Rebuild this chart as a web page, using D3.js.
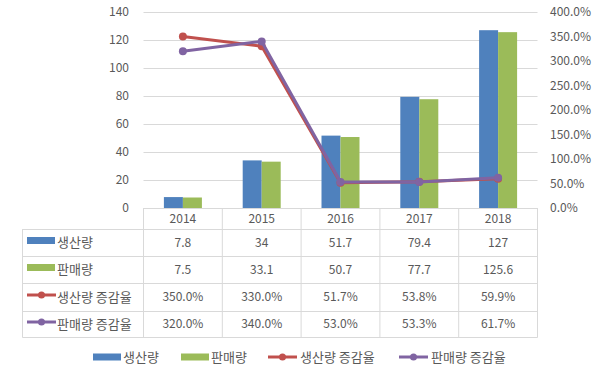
<!DOCTYPE html>
<html>
<head>
<meta charset="utf-8">
<script src="https://cdn.jsdelivr.net/npm/d3@7"></script>
<style>
  body { margin: 0; background: #fff; }
  svg text { font-family: "Noto Sans CJK KR", "Noto Sans", sans-serif; fill: #595959; }
</style>
</head>
<body>
<svg id="chart" width="600" height="377"></svg>
<script>
// data
const years = ["2014", "2015", "2016", "2017", "2018"];
const production = [7.8, 34, 51.7, 79.4, 127];
const sales = [7.5, 33.1, 50.7, 77.7, 125.6];
const prodRate = [350.0, 330.0, 51.7, 53.8, 59.9];
const salesRate = [320.0, 340.0, 53.0, 53.3, 61.7];
const leftTicks = [0, 20, 40, 60, 80, 100, 120, 140];
const rightTicks = [0, 50, 100, 150, 200, 250, 300, 350, 400];

const seriesNames = ["생산량", "판매량", "생산량 증감율", "판매량 증감율"];
const colors = ["#4f81bd", "#9bbb59", "#c0504d", "#8064a2"];

const svg = d3.select("#chart");
const gridColor = "#d9d9d9";

// plot area
const plotLeft = 143.5, plotRight = 537.5, plotTop = 12, plotBottom = 208;

const x = d3.scaleBand().domain(years).range([plotLeft, plotRight]);
const yL = d3.scaleLinear().domain([0, 140]).range([plotBottom, plotTop]);
const yR = d3.scaleLinear().domain([0, 400]).range([plotBottom, plotTop]);

// gridlines
svg.append("g").selectAll("line")
    .data(leftTicks.slice(1))
    .join("line")
    .attr("x1", plotLeft).attr("x2", plotRight)
    .attr("y1", d => Math.round(yL(d)) + 0.5).attr("y2", d => Math.round(yL(d)) + 0.5)
    .attr("stroke", gridColor);

// left axis labels
svg.append("g").selectAll("text")
    .data(leftTicks)
    .join("text")
    .attr("x", 129).attr("y", d => yL(d))
    .attr("dy", "0.35em")
    .attr("text-anchor", "end")
    .attr("font-size", 12)
    .text(d => d);

// right axis labels
svg.append("g").selectAll("text")
    .data(rightTicks)
    .join("text")
    .attr("x", 550).attr("y", d => yR(d))
    .attr("dy", "0.35em")
    .attr("font-size", 12)
    .text(d => d.toFixed(1) + "%");

// bars
const inner = d3.scaleBand().domain([0, 1]).range([0, 38]);
const barSets = [production, sales];
barSets.forEach((vals, i) => {
    svg.append("g").selectAll("rect")
        .data(vals)
        .join("rect")
        .attr("x", (d, j) => x(years[j]) + x.bandwidth() / 2 - 19 + inner(i))
        .attr("width", inner.bandwidth())
        .attr("y", d => yL(d))
        .attr("height", d => plotBottom - yL(d))
        .attr("fill", colors[i]);
});

// lines
const lineSets = [prodRate, salesRate];
const line = d3.line()
    .x((d, j) => x(years[j]) + x.bandwidth() / 2)
    .y(d => yR(d));
lineSets.forEach((vals, i) => {
    const g = svg.append("g");
    g.append("path")
        .datum(vals)
        .attr("d", line)
        .attr("fill", "none")
        .attr("stroke", colors[i + 2])
        .attr("stroke-width", 3)
        .attr("stroke-linejoin", "round");
    g.selectAll("circle")
        .data(vals)
        .join("circle")
        .attr("cx", (d, j) => x(years[j]) + x.bandwidth() / 2)
        .attr("cy", d => yR(d))
        .attr("r", 4)
        .attr("fill", colors[i + 2]);
});

// data table
const tableLeft = 22.5;
const rowLines = [208, 229, 256, 283, 311, 337];
const table = svg.append("g");
// horizontal lines
rowLines.forEach((ry, k) => {
    table.append("line")
        .attr("x1", k === 0 ? plotLeft : tableLeft).attr("x2", plotRight)
        .attr("y1", ry + 0.5).attr("y2", ry + 0.5)
        .attr("stroke", gridColor);
});
// vertical lines
const colEdges = years.map(d => x(d)).concat([plotRight]);
colEdges.forEach(cx => {
    table.append("line")
        .attr("x1", cx).attr("x2", cx)
        .attr("y1", rowLines[0]).attr("y2", rowLines[5] + 0.5)
        .attr("stroke", gridColor);
});
table.append("line")
    .attr("x1", tableLeft).attr("x2", tableLeft)
    .attr("y1", rowLines[1]).attr("y2", rowLines[5] + 0.5)
    .attr("stroke", gridColor);

// year header
table.selectAll("text.year")
    .data(years)
    .join("text")
    .attr("class", "year")
    .attr("x", d => x(d) + x.bandwidth() / 2)
    .attr("y", (rowLines[0] + rowLines[1]) / 2)
    .attr("dy", "0.35em")
    .attr("text-anchor", "middle")
    .attr("font-size", 12)
    .text(d => d);

// value rows
const rowVals = [
    production.map(String),
    sales.map(String),
    prodRate.map(d => d.toFixed(1) + "%"),
    salesRate.map(d => d.toFixed(1) + "%")
];

// legend key drawer
function drawKey(g, i, kx, ky) {
    if (i < 2) {
        g.append("rect")
            .attr("x", kx).attr("y", ky - 3.5)
            .attr("width", 28).attr("height", 7)
            .attr("fill", colors[i]);
    } else {
        g.append("line")
            .attr("x1", kx).attr("x2", kx + 29)
            .attr("y1", ky).attr("y2", ky)
            .attr("stroke", colors[i]).attr("stroke-width", 3);
        g.append("circle")
            .attr("cx", kx + 14.5).attr("cy", ky).attr("r", 3.5)
            .attr("fill", colors[i]);
    }
}

rowVals.forEach((vals, r) => {
    const cy = (rowLines[r + 1] + rowLines[r + 2]) / 2;
    drawKey(table, r, 27, cy - 2);
    table.append("text")
        .attr("x", 57).attr("y", cy)
        .attr("dy", "0.35em")
        .attr("font-size", 13)
        .text(seriesNames[r]);
    table.selectAll("text.v" + r)
        .data(vals)
        .join("text")
        .attr("class", "v" + r)
        .attr("x", (d, j) => x(years[j]) + x.bandwidth() / 2)
        .attr("y", cy)
        .attr("dy", "0.35em")
        .attr("text-anchor", "middle")
        .attr("font-size", 12)
        .text(d => d);
});

// bottom legend
const legendX = [93, 181, 268, 399];
const legend = svg.append("g");
seriesNames.forEach((name, i) => {
    const ky = 357;
    drawKey(legend, i, legendX[i], ky);
    legend.append("text")
        .attr("x", legendX[i] + (i < 2 ? 30 : 32))
        .attr("y", ky)
        .attr("dy", "0.35em")
        .attr("font-size", 13)
        .text(name);
});
</script>
</body>
</html>
